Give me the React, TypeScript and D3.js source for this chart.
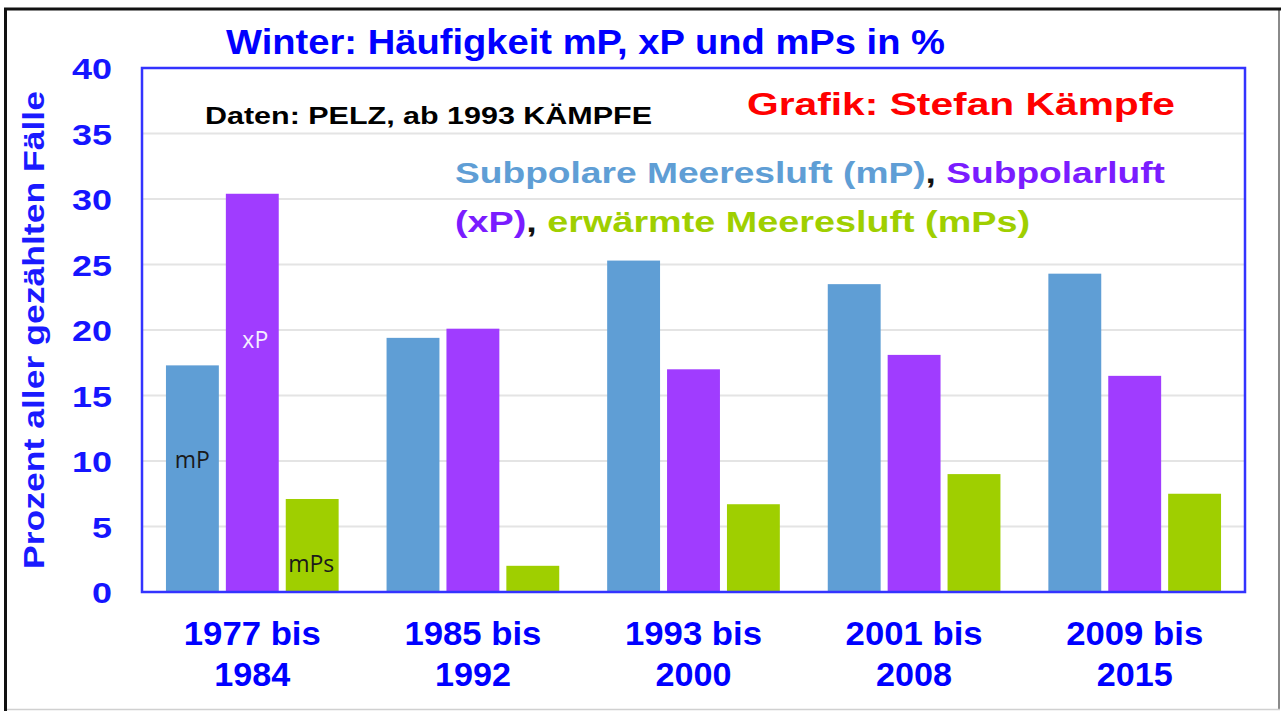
import React from "react";
import * as d3 from "d3";

const categories = ["1977 bis|1984", "1985 bis|1992", "1993 bis|2000", "2001 bis|2008", "2009 bis|2015"];
const seriesNames = ["mP", "xP", "mPs"];
const mPValues = [17.3, 19.4, 25.3, 23.5, 24.3];
const xPValues = [30.4, 20.1, 17.0, 18.1, 16.5];
const mPsValues = [7.1, 2.0, 6.7, 9.0, 7.5];
const yTicks = [0, 5, 10, 15, 20, 25, 30, 35, 40];
const seriesColors = ["#5f9ed5", "#a03cff", "#9fcf00"];

const W = 1283;
const H = 711;
const plot = { left: 142, right: 1245, top: 68, bottom: 592 };

export default function App() {
  const x0 = d3.scaleBand<string>().domain(categories).range([plot.left, plot.right]).padding(0);
  const x1 = d3
    .scaleBand<string>()
    .domain(seriesNames)
    .range([0, x0.bandwidth()])
    .paddingInner(0.117)
    .paddingOuter(0.4);
  const y = d3.scaleLinear().domain([0, 40]).range([plot.bottom, plot.top]);
  const seriesValues = [mPValues, xPValues, mPsValues];
  const font = "'Liberation Sans', Arial, sans-serif";

  const barLabels = [
    { s: "mP", v: 9.5, color: "#1a1a1a", dx: 0 },
    { s: "xP", v: 18.6, color: "#f4eeff", dx: 3 },
    { s: "mPs", v: 1.5, color: "#1a1a1a", dx: -1 },
  ];

  return (
    <div style={{ position: "absolute", left: 0, top: 0 }}>
      <svg width={W} height={H} style={{ display: "block", background: "#fff" }}>
        {/* outer frame */}
        <rect x={0} y={0} width={W} height={H} fill="#fff" />
        <line x1={1279} y1={9} x2={1279} y2={710} stroke="#8a8a8a" strokeWidth={2} />
        <line x1={5} y1={709.5} x2={1280} y2={709.5} stroke="#d0d0d0" strokeWidth={1.5} />
        <line x1={4} y1={9} x2={1281} y2={9} stroke="#111" strokeWidth={3} />
        <line x1={5.5} y1={8} x2={5.5} y2={711} stroke="#111" strokeWidth={3} />

        {/* title */}
        <text
          x={226}
          y={54}
          fontFamily={font}
          fontWeight="bold"
          fontSize={35}
          fill="#0000ff"
          textLength={719}
          lengthAdjust="spacingAndGlyphs"
        >
          Winter: Häufigkeit mP, xP und mPs in %
        </text>

        {/* gridlines */}
        {yTicks
          .filter((t) => t > 0 && t < 40)
          .map((t) => (
            <line
              key={"g" + t}
              x1={plot.left}
              x2={plot.right}
              y1={y(t)}
              y2={y(t)}
              stroke="#e4e4e4"
              strokeWidth={2}
            />
          ))}

        {/* bars */}
        {categories.map((c, ci) => (
          <g key={c} transform={`translate(${x0(c)},0)`}>
            {seriesNames.map((s, si) => {
              const v = seriesValues[si][ci];
              return (
                <rect
                  key={s}
                  x={x1(s)}
                  y={y(v)}
                  width={x1.bandwidth()}
                  height={y(0) - y(v)}
                  fill={seriesColors[si]}
                />
              );
            })}
          </g>
        ))}

        {/* labels in first group */}
        {barLabels.map((b) => (
          <text
            key={"bl" + b.s}
            x={(x0(categories[0]) as number) + (x1(b.s) as number) + x1.bandwidth() / 2 + b.dx}
            y={y(b.v)}
            textAnchor="middle"
            fontFamily="'Open Sans', 'Liberation Sans', sans-serif"
            fontSize={23}
            fill={b.color}
          >
            {b.s}
          </text>
        ))}

        {/* plot frame */}
        <rect
          x={plot.left}
          y={plot.top}
          width={plot.right - plot.left}
          height={plot.bottom - plot.top}
          fill="none"
          stroke="#3333ff"
          strokeWidth={2.5}
        />

        {/* y tick labels */}
        {yTicks.map((t) => (
          <text
            key={"t" + t}
            x={112}
            y={y(t) + 11}
            textAnchor="end"
            fontFamily={font}
            fontWeight="bold"
            fontSize={30}
            fill="#1515ff"
            textLength={t >= 10 ? 40 : 20}
            lengthAdjust="spacingAndGlyphs"
          >
            {t}
          </text>
        ))}

        {/* y axis title */}
        <text
          transform={`translate(44,${(plot.top + plot.bottom) / 2}) rotate(-90)`}
          textAnchor="middle"
          fontFamily={font}
          fontWeight="bold"
          fontSize={29}
          fill="#1a1aff"
          textLength={478}
          lengthAdjust="spacingAndGlyphs"
        >
          Prozent aller gezählten Fälle
        </text>

        {/* x labels */}
        {categories.map((c) => {
          const [l1, l2] = c.split("|");
          const cx = (x0(c) as number) + x0.bandwidth() / 2;
          return (
            <g key={"x" + c}>
              <text
                x={cx}
                y={645}
                textAnchor="middle"
                fontFamily={font}
                fontWeight="bold"
                fontSize={33}
                fill="#0000ff"
                textLength={137}
                lengthAdjust="spacingAndGlyphs"
              >
                {l1}
              </text>
              <text
                x={cx}
                y={686}
                textAnchor="middle"
                fontFamily={font}
                fontWeight="bold"
                fontSize={33}
                fill="#0000ff"
                textLength={76}
                lengthAdjust="spacingAndGlyphs"
              >
                {l2}
              </text>
            </g>
          );
        })}

        {/* annotations */}
        <text
          x={205}
          y={124}
          fontFamily={font}
          fontWeight="bold"
          fontSize={23}
          fill="#000"
          textLength={447}
          lengthAdjust="spacingAndGlyphs"
        >
          Daten: PELZ, ab 1993 KÄMPFE
        </text>
        <text
          x={747}
          y={115}
          fontFamily={font}
          fontWeight="bold"
          fontSize={31}
          fill="#ff0000"
          textLength={428}
          lengthAdjust="spacingAndGlyphs"
        >
          Grafik: Stefan Kämpfe
        </text>

        {/* legend text */}
        <text
          x={455}
          y={183}
          fontFamily={font}
          fontWeight="bold"
          fontSize={29}
          textLength={710}
          lengthAdjust="spacingAndGlyphs"
        >
          <tspan fill="#5f9ed5">Subpolare Meeresluft (mP)</tspan>
          <tspan fill="#111">, </tspan>
          <tspan fill="#7a1cff">Subpolarluft</tspan>
        </text>
        <text
          x={455}
          y={232}
          fontFamily={font}
          fontWeight="bold"
          fontSize={29}
          textLength={575}
          lengthAdjust="spacingAndGlyphs"
        >
          <tspan fill="#7a1cff">(xP)</tspan>
          <tspan fill="#111">, </tspan>
          <tspan fill="#9fcf00">erwärmte Meeresluft (mPs)</tspan>
        </text>
      </svg>
    </div>
  );
}
